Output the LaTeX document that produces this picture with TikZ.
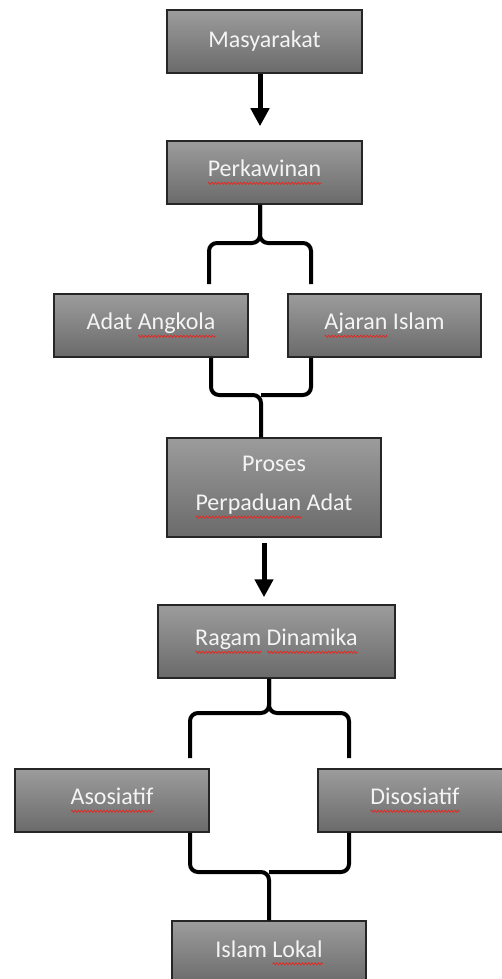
\documentclass[tikz,border=0pt]{standalone}
\usepackage{fontspec}
\setmainfont{Carlito}
\usepackage{xcolor}
\usepackage{tikz}
\usetikzlibrary{arrows.meta, positioning, calc, decorations.pathmorphing}
\definecolor{boxtop}{HTML}{9C9C9C}
\definecolor{boxbot}{HTML}{6A6A6A}
\definecolor{boxline}{HTML}{262626}
\definecolor{boxtext}{HTML}{F4F4F4}
\definecolor{spellred}{HTML}{E8261E}
\newsavebox{\spellbox}
\newlength{\spellwd}
\newcommand{\spell}[1]{\sbox{\spellbox}{#1}\setlength{\spellwd}{\wd\spellbox}%
  \rlap{\tikz[x=1pt, y=1pt, baseline=0pt]\draw[spellred, line width=0.35pt,
        decorate, decoration={zigzag, amplitude=0.55pt, segment length=1.6pt}]
        (0,-3.2) -- (\spellwd,-3.2);}\usebox{\spellbox}}

\begin{document}
\begin{tikzpicture}[
    x=0.5pt, y=-0.5pt,
    every node/.style={font=\fontsize{12}{19.5}\selectfont},
    box/.style={rectangle, draw=boxline, line width=0.75pt,
                top color=boxtop, bottom color=boxbot, text=boxtext,
                minimum width=97pt, minimum height=31.5pt,
                align=center, inner sep=0pt},
    arrow/.style={-{Triangle[length=9pt, width=9pt]}, line width=2.5pt,
                  color=black},
    brace/.style={line width=2pt, rounded corners=4pt, color=black}
]
\useasboundingbox (0,0) rectangle (502,979);

\node[box, minimum width=97.5pt] (masy) at (264.5,41.5) {Masyarakat};
\node[box, minimum width=97.5pt] (perk) at (264.5,172.5) {\spell{Perkawinan}};

\node[box] (adat)   at (151,325.5)   {Adat \spell{Angkola}};
\node[box, minimum width=96.5pt] (ajaran) at (384.5,325.5) {\spell{Ajaran} Islam};

\node[box, minimum width=107pt, minimum height=49.5pt] (proses) at (274,487.5)
     {Proses\\\spell{Perpaduan} Adat};

\node[box, minimum width=118.5pt, minimum height=36.5pt] (ragam) at (276.5,641.5)
     {\spell{Ragam} \spell{Dinamika}};

\node[box] (asos)  at (112,800.5) {\spell{Asosiatif}};
\node[box] (disos) at (415,800.5) {\spell{Disosiatif}};

\node[box, minimum height=32pt] (islam) at (269,953) {Islam \spell{Lokal}};

\coordinate (k1) at (260,243);
\coordinate (k2) at (261,395);
\coordinate (k3) at (269,713);
\coordinate (k4) at (269,872);

\draw[arrow, shorten >=7pt] ([xshift=-2.25pt]masy.south) -- ([xshift=-2.25pt]perk.north);

\draw[brace] (perk.south -| k1) -- (k1) -| (209,284);
\draw[brace] (perk.south -| k1) -- (k1) -| (311,284);
\draw[brace] ([xshift=30pt]adat.south) |- (k2) -- (k2 |- proses.north);
\draw[brace] ([xshift=-36.75pt]ajaran.south) |- (k2);

\draw[arrow, shorten <=2.5pt, shorten >=3.5pt]
     ([xshift=-5pt]proses.south) -- ([xshift=-5pt]proses.south |- ragam.north);

\draw[brace] (ragam.south -| k3) -- (k3) -| (190,758);
\draw[brace] (ragam.south -| k3) -- (k3) -| (349,758);
\draw[brace] ([xshift=39pt]asos.south) |- (k4) -- (k4 |- islam.north);
\draw[brace] ([xshift=-33pt]disos.south) |- (k4);

\end{tikzpicture}
\end{document}
